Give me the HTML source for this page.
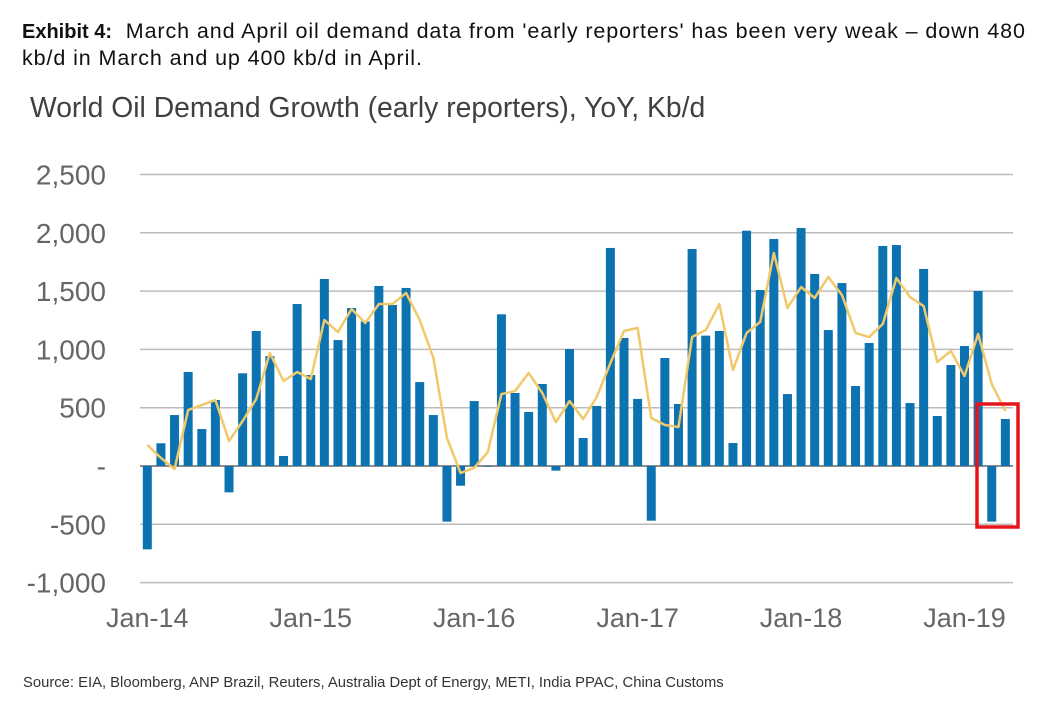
<!DOCTYPE html>
<html><head><meta charset="utf-8"><style>
body{margin:0;background:#fff;width:1045px;height:714px;overflow:hidden;font-family:"Liberation Sans",sans-serif}
</style></head><body>
<div style="position:absolute;left:22px;top:18px;font-size:21.5px;line-height:26px;color:#111;width:1030px;letter-spacing:0.9px;white-space:nowrap"><b style="letter-spacing:0;font-size:20px">Exhibit 4:</b>&nbsp; March and April oil demand data from 'early reporters' has been very weak – down 480<br>kb/d in March and up 400 kb/d in April.</div>
<div style="position:absolute;left:30px;top:91px;font-size:28.3px;color:#404040">World Oil Demand Growth (early reporters), YoY, Kb/d</div>
<svg id="chart" width="1045" height="714" style="position:absolute;left:0;top:0"></svg>
<div style="position:absolute;left:23px;top:675px;font-size:14.8px;color:#333">Source: EIA, Bloomberg, ANP Brazil, Reuters, Australia Dept of Energy, METI, India PPAC, China Customs</div>
<script>
const months=64;
const barValues=[-715,195,437,806,317,566,-226,795,1158,943,86,1389,780,1604,1080,1355,1240,1544,1381,1527,720,437,-477,-169,557,-5,1301,626,463,703,-40,1003,240,515,1870,1098,575,-469,926,532,1861,1118,1158,197,2018,1509,1947,617,2041,1647,1166,1569,686,1055,1887,1895,540,1690,429,866,1029,1501,-477,403];
const lineValues=[180,69,-26,480,523,566,214,386,575,969,729,806,746,1252,1149,1346,1226,1389,1389,1484,1252,930,240,-60,-17,120,617,643,798,626,377,557,403,592,883,1158,1184,412,352,334,1106,1166,1389,823,1141,1235,1827,1355,1535,1441,1621,1467,1141,1106,1218,1612,1449,1372,892,986,772,1132,703,472];
const yTicks=[2500,2000,1500,1000,500,0,-500,-1000];
const yTickLabels=["2,500","2,000","1,500","1,000","500","-","-500","-1,000"];
const xTickIdx=[0,12,24,36,48,60];
const xTickLabels=["Jan-14","Jan-15","Jan-16","Jan-17","Jan-18","Jan-19"];
const svg=document.getElementById('chart');const NS='http://www.w3.org/2000/svg';
const y=v=>466-v*58.3/500;
const x=i=>147.3+i*13.62;
function mk(t,a){const e=document.createElementNS(NS,t);for(const k in a)e.setAttribute(k,a[k]);svg.appendChild(e);return e;}
yTicks.forEach((v,i)=>{
 const g=mk('line',{x1:140,x2:1013,y1:y(v),y2:y(v),stroke:v===0?'#8c8c8c':'#bcbcbc','stroke-width':v===0?2:1.5});
 
 
 const t=mk('text',{x:106,y:y(v)+10,'text-anchor':'end','font-size':28,fill:'#666','font-family':'Liberation Sans, sans-serif'});
 t.textContent=yTickLabels[i];
 
 
});
barValues.forEach((v,i)=>{
 const r=mk('rect',{x:x(i)-4.5,width:9,y:Math.min(y(v),y(0)),height:Math.abs(y(v)-y(0)),fill:'#0c73b0'});
 
 
});
const p=mk('polyline',{points:lineValues.map((v,i)=>x(i)+','+y(v)).join(' '),fill:'none',stroke:'#f2c96a','stroke-width':2.5,'stroke-linejoin':'round'});


xTickIdx.forEach((m,i)=>{
 const t=mk('text',{x:x(m),y:627,'text-anchor':'middle','font-size':27,fill:'#666','font-family':'Liberation Sans, sans-serif'});
 t.textContent=xTickLabels[i];
 
 
});
const b=mk('rect',{x:977,y:404,width:41,height:123,fill:'none',stroke:'#e8141c','stroke-width':3.5});


</script>
</body></html>
